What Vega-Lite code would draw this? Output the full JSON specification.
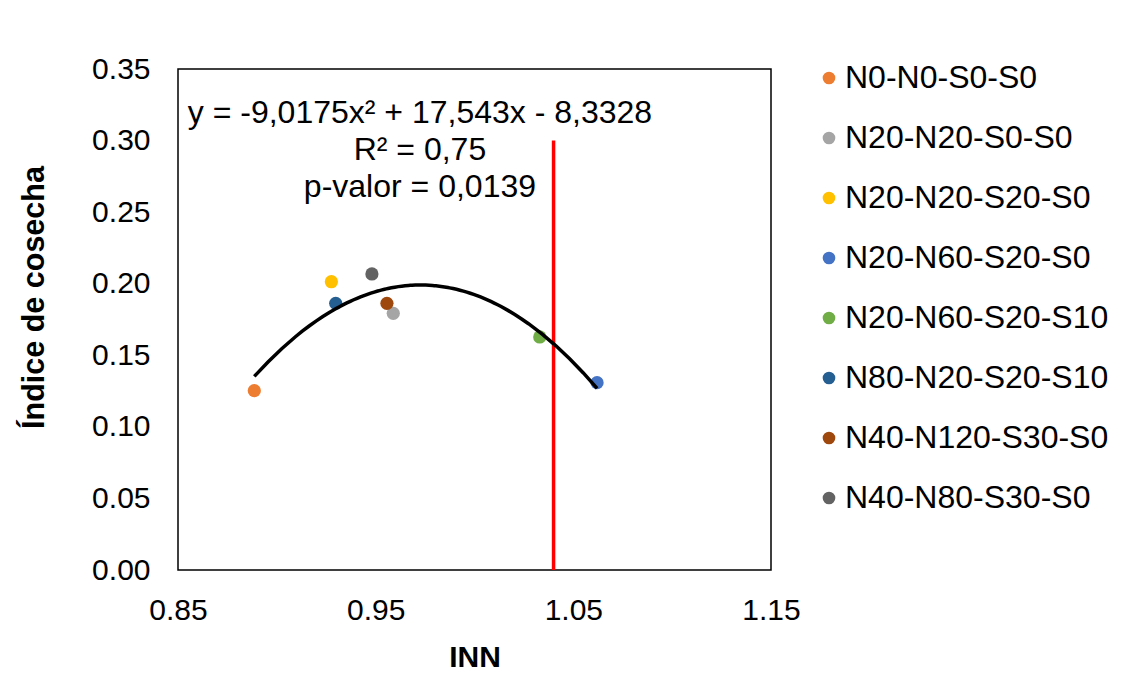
{
  "$schema": "https://vega.github.io/schema/vega-lite/v6.json",
  "width": 593,
  "height": 501,
  "autosize": "none",
  "padding": {"left": 178, "top": 69, "right": 376, "bottom": 113},
  "background": "white",
  "config": {
    "font": "Liberation Sans",
    "view": {"stroke": "black", "strokeWidth": 1.5},
    "axis": {"grid": false, "domain": false, "ticks": false, "tickSize": 0, "labelFontSize": 30, "labelColor": "black", "titleColor": "black", "labelFont": "Liberation Sans", "titleFont": "Liberation Sans", "labelFlush": false, "labelOverlap": false}
  },
  "datasets": {
    "points": [
      {"INN": 0.8886, "IC": 0.1253, "Tratamiento": "N0-N0-S0-S0"},
      {"INN": 0.9589, "IC": 0.1793, "Tratamiento": "N20-N20-S0-S0"},
      {"INN": 0.9276, "IC": 0.2014, "Tratamiento": "N20-N20-S20-S0"},
      {"INN": 1.0620, "IC": 0.1309, "Tratamiento": "N20-N60-S20-S0"},
      {"INN": 1.0330, "IC": 0.1628, "Tratamiento": "N20-N60-S20-S10"},
      {"INN": 0.9298, "IC": 0.1863, "Tratamiento": "N80-N20-S20-S10"},
      {"INN": 0.9557, "IC": 0.1863, "Tratamiento": "N40-N120-S30-S0"},
      {"INN": 0.9481, "IC": 0.2068, "Tratamiento": "N40-N80-S30-S0"}
    ],
    "threshold": [{"INN": 1.04, "IC": 0, "IC2": 0.30}],
    "labels": [
      {"INN": 0.9724, "IC": 0.3125, "texto": "y = -9,0175x² + 17,543x - 8,3328"},
      {"INN": 0.9724, "IC": 0.2864, "texto": "R² = 0,75"},
      {"INN": 0.9724, "IC": 0.2606, "texto": "p-valor = 0,0139"}
    ]
  },
  "layer": [
    {
      "data": {"name": "threshold"},
      "mark": {"type": "rule", "color": "#FF0000", "strokeWidth": 3.5},
      "encoding": {
        "x": {"field": "INN", "type": "quantitative"},
        "y": {"field": "IC", "type": "quantitative"},
        "y2": {"field": "IC2"}
      }
    },
    {
      "data": {"name": "points"},
      "mark": {"type": "circle", "size": 175, "opacity": 1},
      "encoding": {
        "x": {
          "field": "INN", "type": "quantitative",
          "scale": {"domain": [0.85, 1.15], "nice": false, "zero": false},
          "axis": {"values": [0.85, 0.95, 1.05, 1.15], "format": ".2f", "title": "INN", "titleFontSize": 30, "titleFontWeight": "bold", "labelPadding": 25, "titleY": 96, "titleBaseline": "alphabetic"}
        },
        "y": {
          "field": "IC", "type": "quantitative",
          "scale": {"domain": [0, 0.35], "nice": false},
          "axis": {"values": [0, 0.05, 0.1, 0.15, 0.2, 0.25, 0.3, 0.35], "format": ".2f", "title": "Índice de cosecha", "titleFontSize": 30.5, "titleFontWeight": "bold", "labelPadding": 28, "titleAngle": -90, "titleX": -135, "titleY": 228, "titleAlign": "center", "titleBaseline": "alphabetic"}
        },
        "color": {
          "field": "Tratamiento", "type": "nominal",
          "scale": {
            "domain": ["N0-N0-S0-S0", "N20-N20-S0-S0", "N20-N20-S20-S0", "N20-N60-S20-S0", "N20-N60-S20-S10", "N80-N20-S20-S10", "N40-N120-S30-S0", "N40-N80-S30-S0"],
            "range": ["#ED7D31", "#A5A5A5", "#FFC000", "#4472C4", "#70AD47", "#255E91", "#9E480E", "#636363"]
          },
          "legend": {
            "title": null, "orient": "none", "legendX": 635, "legendY": -7,
            "labelFontSize": 32, "labelColor": "black", "labelFont": "Liberation Sans", "labelLimit": 400,
            "symbolType": "circle", "symbolSize": 160, "symbolStrokeWidth": 0, "symbolOpacity": 1,
            "rowPadding": 28, "labelOffset": 0, "padding": 0
          }
        }
      }
    },
    {
      "data": {"name": "points"},
      "transform": [{"regression": "IC", "on": "INN", "method": "poly", "order": 2}],
      "mark": {"type": "line", "color": "black", "strokeWidth": 3.5},
      "encoding": {
        "x": {"field": "INN", "type": "quantitative"},
        "y": {"field": "IC", "type": "quantitative"}
      }
    },
    {
      "data": {"name": "labels"},
      "mark": {"type": "text", "fontSize": 32, "color": "black", "align": "center", "baseline": "alphabetic", "font": "Liberation Sans"},
      "encoding": {
        "x": {"field": "INN", "type": "quantitative"},
        "y": {"field": "IC", "type": "quantitative"},
        "text": {"field": "texto"}
      }
    }
  ]
}
